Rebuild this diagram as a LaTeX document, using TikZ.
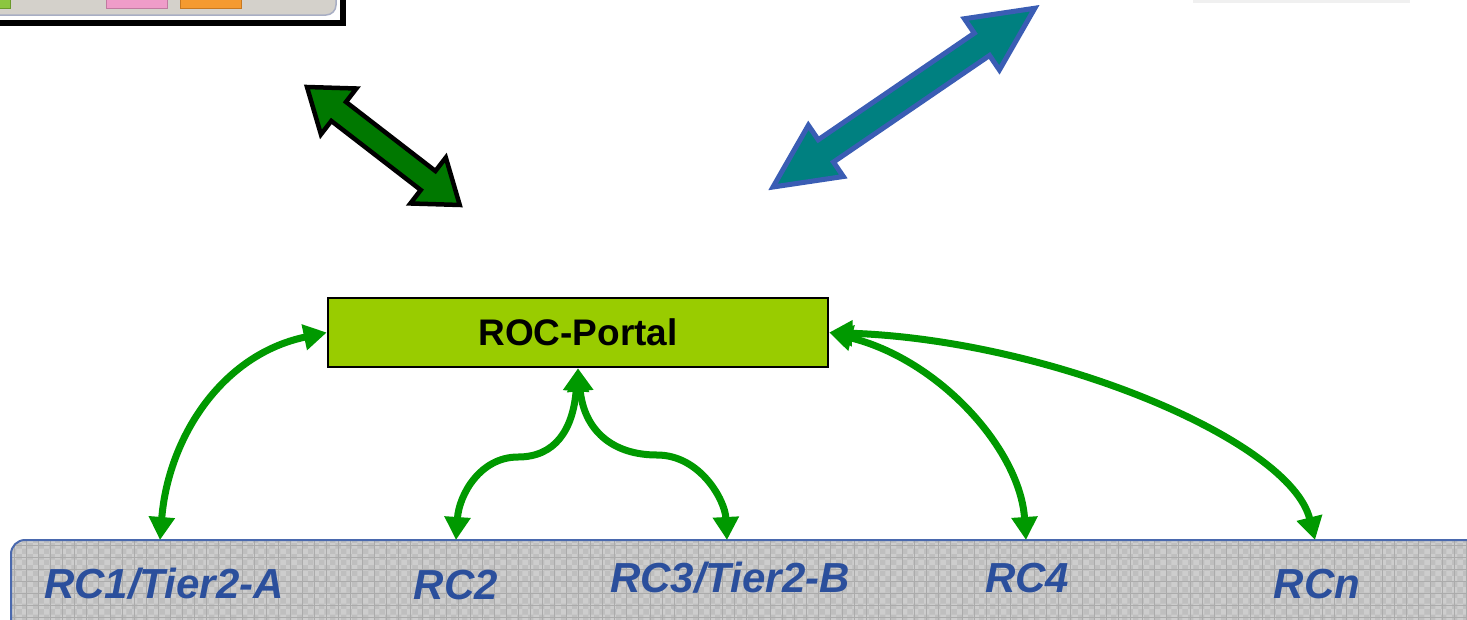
\documentclass[tikz,border=0pt]{standalone}
\usepackage{fontspec}
\setmainfont{Liberation Sans}
\usetikzlibrary{arrows.meta,patterns}

\definecolor{linkgreen}{HTML}{009900}
\definecolor{portalfill}{HTML}{99CC00}
\definecolor{bigarrowgreen}{HTML}{007800}
\definecolor{tealfill}{HTML}{008080}
\definecolor{tealedge}{HTML}{3A5DB4}
\definecolor{labelblue}{HTML}{2B4F9C}
\definecolor{barfill}{HTML}{CDCDCD}
\definecolor{bardots}{HTML}{BFBFBF}
\definecolor{bargrid}{HTML}{ABABAB}
\definecolor{baredge}{HTML}{4A69AE}
\definecolor{panelgray}{HTML}{D4D1CB}
\definecolor{paneledge}{HTML}{A8AEC4}
\definecolor{tabpink}{HTML}{EF9CC9}
\definecolor{tabpinkedge}{HTML}{C07AA0}
\definecolor{taborange}{HTML}{F59A30}
\definecolor{taborangeedge}{HTML}{C87820}
\definecolor{tabgreen}{HTML}{8CC63F}
\definecolor{tabgreenedge}{HTML}{6A9A2A}

\tikzset{
  link/.style={draw=linkgreen, line width=7pt,
    {Triangle[length=23pt,width=25pt,fill=linkgreen]}-{Triangle[length=23pt,width=25pt,fill=linkgreen]}},
  rocbox/.style={draw=black, line width=2.5pt, fill=portalfill,
    minimum width=500pt, minimum height=69pt, inner sep=0pt,
    font=\fontsize{37}{40}\selectfont\bfseries},
  rclabel/.style={text=labelblue, inner sep=0pt,
    font=\fontsize{42}{46}\selectfont\bfseries\itshape},
  greenlink/.style={fill=bigarrowgreen, draw=black, line width=4.5pt, line join=miter},
  teallink/.style={fill=tealfill, draw=tealedge, line width=5pt, line join=miter},
  tab/.style={line width=1pt}
}

\begin{document}
\begin{tikzpicture}[x=1pt,y=-1pt]
\useasboundingbox (0,0) rectangle (1467,619);

% framed panel in the upper left corner
\draw[line width=6pt, fill=white] (-20,-20) rectangle (343,23);
\draw[fill=panelgray, draw=paneledge, line width=1.5pt, rounded corners=10pt] (-30,-30) rectangle (336,15);
\draw[tab, fill=tabgreen, draw=tabgreenedge] (-10,-5) rectangle (10,8);
\draw[tab, fill=tabpink, draw=tabpinkedge] (106,-5) rectangle (167,8);
\draw[tab, fill=taborange, draw=taborangeedge] (180,-5) rectangle (241,8);

% faint strip in the upper right corner
\fill[black!6] (1193,-5) rectangle (1410,2.5);

% block double arrow (green)
\begin{scope}[shift={(307,87)}, rotate=-37.68]
  \draw[greenlink] (0,0) -- (40,29) -- (40,12) -- (153,12) -- (153,29) -- (193,0)
    -- (153,-29) -- (153,-12) -- (40,-12) -- (40,-29) -- cycle;
\end{scope}

% block double arrow (teal)
\begin{scope}[shift={(773,187)}, rotate=34.33]
  \draw[teallink] (0,0) -- (64,31) -- (64,13.5) -- (253,13.5) -- (253,31) -- (317,0)
    -- (253,-31) -- (253,-13.5) -- (64,-13.5) -- (64,-31) -- cycle;
\end{scope}

% resource-centre bar with its grid texture
\begin{scope}
  \clip[rounded corners=14pt] (11,540) rectangle (1520,680);
  \fill[barfill] (0,530) rectangle (1520,680);
  \fill[pattern=checkerboard, pattern color=bardots] (0,530) rectangle (1520,680);
  \foreach \gx in {0,...,125} {
    \draw[bargrid, line width=1pt] ({14.5+\gx*12},530) -- ({14.5+\gx*12},680);
  }
  \foreach \gy in {0,...,8} {
    \draw[bargrid, line width=1pt] (0,{545.5+\gy*12}) -- (1520,{545.5+\gy*12});
  }
\end{scope}
\draw[baredge, line width=2pt, rounded corners=14pt] (11,540) rectangle (1520,680);

% portal and resource centres
\node[rocbox] (roc) at (578,332.5) {ROC-Portal};
\node[rclabel, anchor=base] (rc1) at (164,598) {RC1/Tier2-A};
\node[rclabel, anchor=base] (rc2) at (456,599) {RC2};
\node[rclabel, anchor=base] (rc3) at (730,592) {RC3/Tier2-B};
\node[rclabel, anchor=base] (rc4) at (1027,592) {RC4};
\node[rclabel, anchor=base] (rcn) at (1317,598) {RCn};

% link end points on the top edge of the bar
\coordinate (t1) at (160,540);
\coordinate (t2) at (456,540);
\coordinate (t3) at (727,540);
\coordinate (t4) at (1026,540);
\coordinate (tn) at (1315,540);
\coordinate (j2) at (518,457);
\coordinate (j3) at (657,455);

% links between the portal and the resource centres
\draw[link] (t1) .. controls (168,440) and (220,355) .. (roc.west);
\draw[link] (roc.south) .. controls (573,430) and (555,457) .. (j2)
  .. controls (480,457) and (459,495) .. (t2);
\draw[link] (roc.south) .. controls (584,430) and (612,455) .. (j3)
  .. controls (700,455) and (725,500) .. (t3);
\draw[link] (roc.east) .. controls (940,360) and (1020,450) .. (t4);
\draw[link] (roc.east) .. controls (1050,340) and (1290,440) .. (tn);
\end{tikzpicture}
\end{document}
